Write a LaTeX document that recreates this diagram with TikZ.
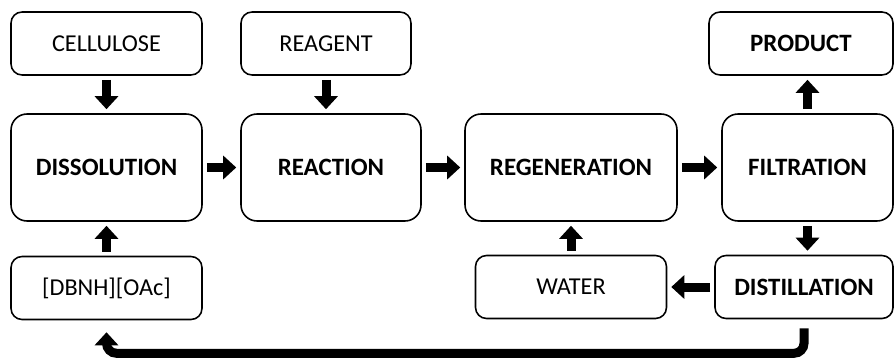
\documentclass[tikz,border=0pt]{standalone}
\usepackage{fontspec}
\setmainfont{Carlito}
\usetikzlibrary{arrows.meta}

\begin{document}
\begin{tikzpicture}[x=0.02cm,y=-0.02cm,
    font=\fontsize{13.8}{16}\selectfont,
    box/.style={draw,rounded corners=0.22cm,line width=0.9pt,inner sep=0pt,minimum height=1.26cm},
    bigbox/.style={box,rounded corners=0.32cm,minimum height=2.14cm,font=\fontsize{14.2}{16}\selectfont\bfseries},
    flow/.style={line width=0.18cm,shorten <=0.08cm,shorten >=0.08cm,
      -{Triangle[width=0.46cm,length=0.26cm]}}
    ]

    \useasboundingbox (0,0) rectangle (895,358);

    % top row
    \node (cell) [box,minimum width=3.82cm] at (106.5,43.5) {CELLULOSE};
    \node (reag) [box,minimum width=3.4cm] at (326,43.5) {REAGENT};
    \node (prod) [box,minimum width=3.68cm,font=\fontsize{14.2}{16}\selectfont\bfseries] at (801,43.5) {PRODUCT};

    % main row
    \node (diss) [bigbox,minimum width=3.82cm] at (106.5,167.5) {DISSOLUTION};
    \node (reac) [bigbox,minimum width=3.6cm] at (331,167.5) {REACTION};
    \node (regen) [bigbox,minimum width=4.24cm] at (571,167.5) {REGENERATION};
    \node (filt) [bigbox,minimum width=3.42cm] at (807.5,167.5) {FILTRATION};

    % bottom row
    \node (dbnh) [box,minimum width=3.82cm] at (106.5,288) {[DBNH][OAc]};
    \node (water) [box,minimum width=3.82cm] at (571,287) {WATER};
    \node (dist) [box,minimum width=3.56cm,font=\fontsize{14.2}{16}\selectfont\bfseries] at (804,287) {DISTILLATION};

    \foreach \a/\b in {cell.south/diss.north,diss.east/reac.west,reac.east/regen.west,
        regen.east/filt.west,dist.west/water.east,water.north/regen.south,dbnh.north/diss.south}
      \draw[flow] (\a) -- (\b);

    \draw[flow] (reag) -- (reag |- reac.north);
    \draw[flow] (filt.north) -- (filt.north |- prod.south);
    \draw[flow] (filt.south) -- (filt.south |- dist.north);

    \draw[flow,rounded corners=0.2cm,shorten <=0.18cm,shorten >=0.24cm]
      (dist.south) -- ++(0,34) -| (dbnh.south);

\end{tikzpicture}
\end{document}
